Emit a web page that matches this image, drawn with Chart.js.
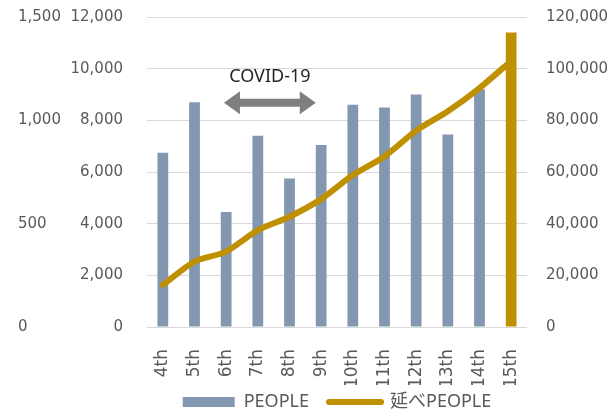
<!DOCTYPE html>
<html lang="ja">
<head>
<meta charset="UTF-8">
<title>PEOPLE</title>
<script src="https://cdn.jsdelivr.net/npm/chart.js"></script>
<style>
    html, body { margin: 0; padding: 0; background: #fff; }
    canvas { display: block; }
</style>
</head>
<body>
<canvas id="peopleChart" width="612" height="411"></canvas>
<script>
    // categories and values
    const labels = ['4th', '5th', '6th', '7th', '8th', '9th', '10th', '11th', '12th', '13th', '14th', '15th'];
    const people = [6750, 8700, 4450, 7400, 5750, 7050, 8600, 8500, 9000, 7450, 9200, 11400];
    const totalPeople = [16300, 25300, 29200, 37500, 42700, 49500, 58800, 66000, 76000, 83500, 92500, 103000];

    // axis ranges (tick labels come from these)
    const peopleAxis = { min: 0, max: 12000, step: 2000 };
    const totalAxis = { min: 0, max: 120000, step: 20000 };
    const extraAxis = { min: 0, max: 1500, step: 500 };

    // COVID-19 annotation: category span and left-axis levels
    const covidLabel = 'COVID-19';
    const covidSpan = [1.93, 4.83];
    const covidArrowLevel = 8680;
    const covidLabelLevel = 9680;

    const BLUE = '#8497b0';
    const GOLD = '#bf9000';
    const TICK = '#595959';
    const tickFont = { family: 'DejaVu Sans', size: 15 };
    const withCommas = v => Number(v).toLocaleString('en-US');

    const barColors = labels.map((l, i) => i === labels.length - 1 ? GOLD : BLUE);

    const covidArrow = {
        id: 'covidArrow',
        afterDatasetsDraw(chart) {
            const xs = chart.scales.x, ys = chart.scales.y;
            const x1 = xs.getPixelForValue(covidSpan[0]);
            const x2 = xs.getPixelForValue(covidSpan[1]);
            const ay = ys.getPixelForValue(covidArrowLevel);
            const head = 16, half = 11.5, shaft = 4;
            const ctx = chart.ctx;
            ctx.save();
            ctx.fillStyle = '#7f7f7f';
            ctx.beginPath();
            ctx.moveTo(x1, ay);
            ctx.lineTo(x1 + head, ay - half);
            ctx.lineTo(x1 + head, ay - shaft);
            ctx.lineTo(x2 - head, ay - shaft);
            ctx.lineTo(x2 - head, ay - half);
            ctx.lineTo(x2, ay);
            ctx.lineTo(x2 - head, ay + half);
            ctx.lineTo(x2 - head, ay + shaft);
            ctx.lineTo(x1 + head, ay + shaft);
            ctx.lineTo(x1 + head, ay + half);
            ctx.closePath();
            ctx.fill();
            ctx.font = '18px "Noto Sans"';
            ctx.fillStyle = '#262626';
            ctx.textAlign = 'center';
            ctx.textBaseline = 'middle';
            ctx.fillText(covidLabel, (x1 + x2) / 2, ys.getPixelForValue(covidLabelLevel));
            ctx.restore();
        }
    };

    // legend padding is also the gap between items, so start the box a little higher
    const legendLift = {
        id: 'legendLift',
        afterLayout(chart) {
            chart.legend.top -= 12;
        }
    };

    new Chart(document.getElementById('peopleChart'), {
        data: {
            labels: labels,
            datasets: [{
                type: 'bar',
                label: 'PEOPLE',
                data: people,
                yAxisID: 'y',
                backgroundColor: barColors,
                categoryPercentage: 1,
                barPercentage: 0.34,
                order: 1
            }, {
                type: 'line',
                label: '延べPEOPLE',
                data: totalPeople,
                yAxisID: 'y1',
                borderColor: GOLD,
                backgroundColor: GOLD,
                borderWidth: 6,
                borderCapStyle: 'round',
                borderJoinStyle: 'round',
                tension: 0.25,
                pointRadius: 0,
                order: 0
            }]
        },
        options: {
            responsive: false,
            animation: false,
            layout: { padding: { left: 18, right: 0, top: 0, bottom: 0 } },
            scales: {
                x: {
                    grid: { display: false },
                    border: { display: false },
                    ticks: {
                        color: TICK,
                        font: { family: 'DejaVu Sans', size: 17 },
                        minRotation: 90,
                        maxRotation: 90,
                        autoSkip: false,
                        padding: 14
                    },
                    afterFit(scale) { scale.height = 58; }
                },
                y: {
                    position: 'left',
                    weight: 0,
                    min: peopleAxis.min,
                    max: peopleAxis.max,
                    // invisible tick marks push the labels away from the plot
                    grid: { color: '#d9d9d9', drawTicks: true, tickLength: 16, tickColor: 'rgba(0,0,0,0)' },
                    border: { display: false },
                    ticks: { stepSize: peopleAxis.step, color: TICK, font: tickFont, padding: 8, callback: withCommas },
                    afterFit(scale) { scale.width = 79; }
                },
                y2: {
                    position: 'left',
                    weight: 1,
                    min: extraAxis.min,
                    max: extraAxis.max,
                    grid: { display: false },
                    border: { display: false },
                    ticks: { stepSize: extraAxis.step, color: TICK, font: tickFont, crossAlign: 'far', padding: 0, callback: withCommas },
                    afterFit(scale) { scale.width = 50; }
                },
                y1: {
                    position: 'right',
                    min: totalAxis.min,
                    max: totalAxis.max,
                    grid: { display: false, tickLength: 11 },
                    border: { display: false },
                    ticks: { stepSize: totalAxis.step, color: TICK, font: tickFont, padding: 8, callback: withCommas },
                    afterFit(scale) { scale.width = 85; }
                }
            },
            plugins: {
                tooltip: { enabled: false },
                legend: {
                    position: 'bottom',
                    fullSize: false,
                    maxHeight: 26,
                    labels: {
                        usePointStyle: true,
                        pointStyleWidth: 52,
                        boxHeight: 10,
                        padding: 20,
                        color: TICK,
                        font: { family: "'Noto Sans', 'Noto Sans CJK JP'", size: 18 },
                        sort: (a, b) => a.datasetIndex - b.datasetIndex,
                        generateLabels(chart) {
                            const items = Chart.defaults.plugins.legend.labels.generateLabels(chart);
                            items.forEach(item => {
                                const ds = chart.data.datasets[item.datasetIndex];
                                if (ds.type === 'line') {
                                    item.pointStyle = 'line';
                                    item.strokeStyle = GOLD;
                                    item.lineWidth = 6;
                                    item.lineCap = 'round';
                                } else {
                                    item.pointStyle = 'rect';
                                    item.fillStyle = BLUE;
                                    item.lineWidth = 0;
                                }
                            });
                            return items;
                        }
                    }
                }
            }
        },
        plugins: [covidArrow, legendLift]
    });
</script>
</body>
</html>
